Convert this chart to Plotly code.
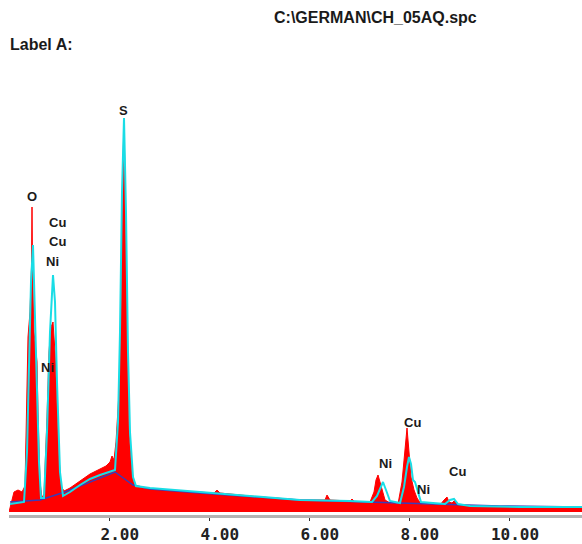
import plotly.graph_objects as go

# Spectrum A (filled, red): energy in keV, counts
red_keV = [0.00, 0.06, 0.10, 0.18, 0.26, 0.32, 0.36, 0.38, 0.42, 0.45, 0.46, 0.47, 0.50, 0.54,
           0.56, 0.58, 0.62, 0.66, 0.70, 0.76, 0.80, 0.84, 0.88, 0.92, 0.96, 1.00, 1.04, 1.10,
           1.22, 1.42, 1.62, 1.82, 1.94, 2.02, 2.06, 2.10, 2.14, 2.17, 2.20, 2.24, 2.26, 2.30,
           2.33, 2.36, 2.40, 2.46, 2.52, 2.82, 3.42, 4.10, 4.16, 4.22, 5.02, 5.82, 6.32, 6.36,
           6.42, 6.82, 6.86, 6.92, 7.22, 7.30, 7.34, 7.38, 7.42, 7.46, 7.52, 7.62, 7.78, 7.86,
           7.92, 7.96, 8.00, 8.04, 8.10, 8.16, 8.24, 8.62, 8.70, 8.76, 8.80, 8.86, 8.92, 8.98,
           9.42, 10.22, 11.46]
red_counts = [0, 12, 20, 22, 20, 26, 110, 175, 200, 245, 305, 245, 180, 160,
              150, 100, 30, 14, 18, 95, 160, 185, 190, 160, 110, 55, 26, 21,
              24, 31, 38, 43, 46, 50, 56, 52, 70, 95, 120, 200, 300, 394,
              300, 160, 80, 40, 25, 23, 21, 19, 22, 19, 15, 12, 12, 17,
              12, 11, 13, 10, 10, 20, 32, 37, 30, 22, 12, 9, 8, 30,
              65, 84, 60, 35, 22, 14, 8, 7, 12, 15, 10, 9, 12, 7,
              6, 5, 5]

# Spectrum B (outline, cyan)
cyan_keV = [0.02, 0.30, 0.36, 0.40, 0.44, 0.48, 0.52, 0.56, 0.60, 0.64, 0.70, 0.76, 0.82,
            0.88, 0.92, 0.96, 1.02, 1.08, 1.22, 1.42, 1.62, 1.82, 2.02, 2.12, 2.18, 2.22,
            2.26, 2.30, 2.34, 2.38, 2.42, 2.48, 2.54, 2.82, 3.82, 5.02, 5.82, 6.82, 7.26,
            7.36, 7.42, 7.48, 7.54, 7.62, 7.82, 7.90, 7.96, 8.00, 8.04, 8.08, 8.12, 8.18,
            8.24, 8.72, 8.82, 8.90, 8.98, 9.22, 10.22, 11.46]
cyan_counts = [8, 10, 60, 150, 230, 267, 200, 120, 50, 14, 14, 80, 180,
               237, 210, 130, 40, 16, 20, 27, 33, 37, 40, 42, 90, 180,
               320, 394, 300, 160, 80, 35, 26, 24, 20, 15, 12, 11, 10,
               16, 24, 30, 22, 11, 9, 25, 45, 55, 48, 32, 30, 20,
               10, 8, 12, 13, 8, 6, 5, 5]

# Continuum (background) estimate, dark blue
bkg_keV = [0.02, 0.62, 1.12, 1.42, 1.82, 2.12, 2.48, 2.82, 3.82, 5.82, 7.82, 9.82, 11.46]
bkg_counts = [10, 12, 20, 26, 34, 40, 27, 23, 19, 12, 9, 6, 5]

# Axis ticks
tick_keV = [2, 4, 6, 8, 10]
tick_text = ["\u00a02.00", "\u00a04.00", "\u00a06.00", "\u00a08.00", "10.00"]

# Peak identifications: (label, keV, counts)
peak_labels = ["O", "Cu", "Cu", "Ni", "Ni", "S", "Cu", "Ni", "Ni", "Cu"]
peak_keV = [0.46, 0.96, 0.96, 0.86, 0.76, 2.28, 8.06, 7.52, 8.28, 8.96]
peak_counts = [316, 290, 271, 251, 145, 402, 90, 49, 23, 41]

fig = go.Figure()
fig.add_trace(go.Scatter(x=red_keV, y=red_counts, mode="lines", fill="tozeroy",
                         line=dict(color="#ff0000", width=1), fillcolor="#ff0000",
                         hoverinfo="skip"))
fig.add_trace(go.Scatter(x=bkg_keV, y=bkg_counts, mode="lines",
                         line=dict(color="#3a3cb8", width=1.5), hoverinfo="skip"))
fig.add_trace(go.Scatter(x=cyan_keV, y=cyan_counts, mode="lines",
                         line=dict(color="#19dde6", width=2), hoverinfo="skip"))

for lab, ex, cy in zip(peak_labels, peak_keV, peak_counts):
    fig.add_annotation(x=ex, y=cy, text=f"<b>{lab}</b>", showarrow=False,
                       font=dict(family="Liberation Sans, Arial", size=13, color="#1a1a1a"),
                       xanchor="center", yanchor="middle")

fig.add_annotation(xref="paper", yref="paper", x=0.639, y=1.0945,
                   text="<b>C:\\GERMAN\\CH_05AQ.spc</b>", showarrow=False,
                   font=dict(family="Liberation Sans, Arial", size=16, color="#1a1a1a"),
                   xanchor="center", yanchor="middle")
fig.add_annotation(xref="paper", yref="paper", x=-0.002, y=1.033,
                   text="<b>Label A:</b>", showarrow=False,
                   font=dict(family="Liberation Sans, Arial", size=16, color="#1a1a1a"),
                   xanchor="left", yanchor="middle")

fig.update_layout(
    width=582, height=544,
    margin=dict(l=9, r=0, t=60, b=29),
    paper_bgcolor="white", plot_bgcolor="white",
    showlegend=False,
    xaxis=dict(range=[0, 11.46], showgrid=False, zeroline=False,
               showline=True, linecolor="#b4b4b4", linewidth=3,
               tickmode="array", tickvals=tick_keV, ticktext=tick_text,
               ticks="outside", ticklen=3, tickwidth=1, tickcolor="#333333",
               ticklabelshift=6,
               tickfont=dict(family="DejaVu Sans Mono", size=16, color="#222222",
                             weight="bold")),
    yaxis=dict(range=[-3, 452], visible=False),
)

fig.write_html("out.html")
